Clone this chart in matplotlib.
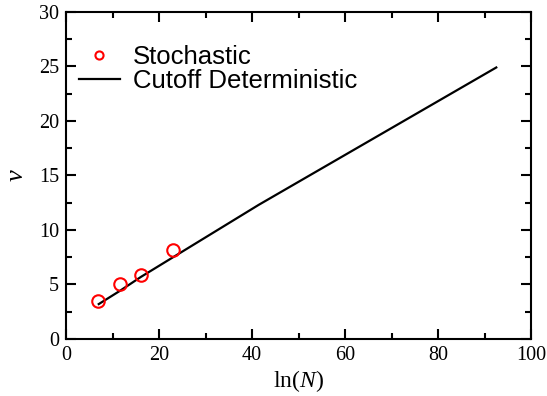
import numpy as np, matplotlib
matplotlib.use('Agg'); import matplotlib.pyplot as plt
from matplotlib.ticker import MultipleLocator

# data
stoch_x = [6.9, 11.5, 16.1, 23.0]
stoch_v = [3.5, 5.0, 5.9, 8.2]
det_x = [7.0, 11.5, 16.1, 23.0, 41.4, 92.5]
det_v = [3.2, 4.4, 5.7, 7.5, 12.3, 24.9]

SERIF = 'Liberation Serif'; SANS = 'Liberation Sans'
plt.rcParams['mathtext.fontset'] = 'custom'
plt.rcParams['mathtext.it'] = 'Liberation Serif:italic'
plt.rcParams['mathtext.rm'] = 'Liberation Serif'

fig = plt.figure(figsize=(5.47, 3.96), dpi=100)
ax = fig.add_axes([0.121, 0.144, 0.850, 0.826])
ax.plot(stoch_x, stoch_v, 'o', ms=9, mfc='none', mec='#ff0000', mew=1.5, label='Stochastic', zorder=3)
ax.plot(det_x, det_v, '-', color='black', lw=1.6, label='Cutoff Deterministic', zorder=2)

ax.set_xlim(0, 100); ax.set_ylim(0, 30)
ax.xaxis.set_major_locator(MultipleLocator(20)); ax.xaxis.set_minor_locator(MultipleLocator(10))
ax.yaxis.set_major_locator(MultipleLocator(5)); ax.yaxis.set_minor_locator(MultipleLocator(2.5))
ax.tick_params(which='both', direction='in', top=True, right=True, width=1.5)
ax.tick_params(which='major', length=7, labelsize=14.5, pad=5)
ax.tick_params(which='minor', length=4)
for lab in ax.get_xticklabels() + ax.get_yticklabels():
    lab.set_family(SERIF)
for s in ax.spines.values():
    s.set_linewidth(1.5)

ax.set_xlabel(r'ln($\mathit{N}$)', family=SERIF, fontsize=17, labelpad=2)
ax.set_ylabel(r'$\mathit{v}$', family=SERIF, fontsize=19, labelpad=8)

leg = ax.legend(loc='upper left', frameon=False, prop={'family': SANS, 'size': 18.5},
                handlelength=1.6, handletextpad=0.5, labelspacing=0.0, markerscale=0.65,
                bbox_to_anchor=(-0.012, 0.955), borderaxespad=0.3)

fig.savefig('out.png', dpi=100)
